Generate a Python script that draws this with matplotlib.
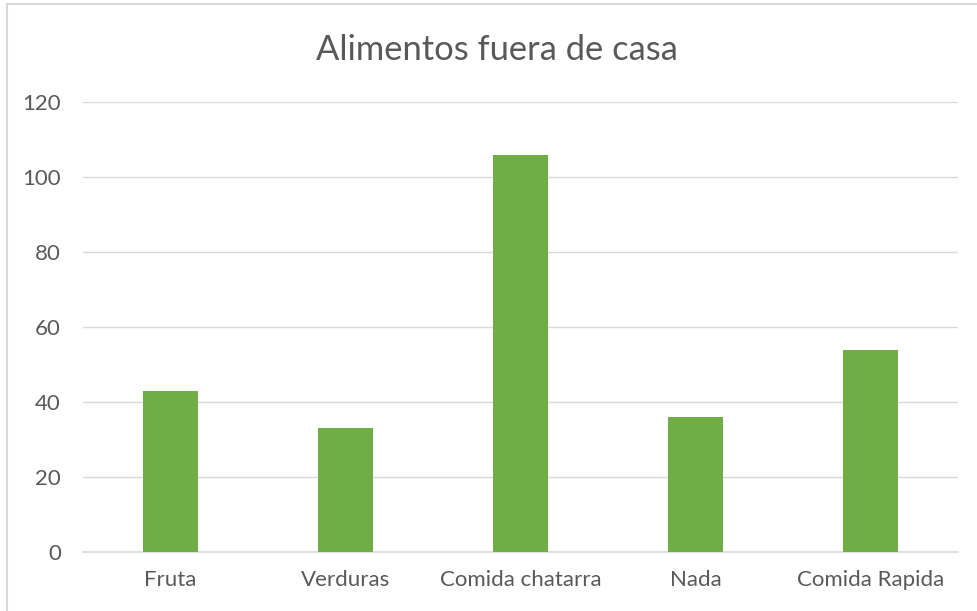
import matplotlib
matplotlib.use('Agg')
import matplotlib.pyplot as plt
from matplotlib.patches import Rectangle

categories = ['Fruta', 'Verduras', 'Comida chatarra', 'Nada', 'Comida Rapida']
values = [43, 33, 106, 36, 54]
y_ticks = [0, 20, 40, 60, 80, 100, 120]

W, H = 977, 611
fig = plt.figure(figsize=(W / 100, H / 100), dpi=100)
plt.rcParams['font.family'] = ['Lato', 'DejaVu Sans']

# chart-area border (only left and top visible in the crop)
fig.patches.append(Rectangle((6.5 / W, -0.1), 2, 1 - 3.5 / H + 0.1,
                             transform=fig.transFigure, fill=False,
                             edgecolor='#D9D9D9', linewidth=1.5))

ax = fig.add_axes([83 / W, 1 - 552 / H, 875 / W, 450 / H])
x = range(len(categories))
ax.bar(x, values, width=0.315, color='#70AD47', zorder=3)

ax.set_xlim(-0.5, len(categories) - 0.5)
ax.set_ylim(0, 120)
ax.set_yticks(y_ticks)
ax.set_xticks(list(x))
ax.set_xticklabels(categories)
ax.grid(axis='y', color='#D9D9D9', linewidth=1, zorder=0)
for s in ['top', 'right', 'left']:
    ax.spines[s].set_visible(False)
ax.spines['bottom'].set_color('#D9D9D9')
ax.spines['bottom'].set_linewidth(1.2)
ax.tick_params(length=0, colors='#595959', labelsize=16)
ax.tick_params(axis='y', pad=16)
ax.tick_params(axis='x', pad=13)

fig.text(497 / W, 1 - 50 / H, 'Alimentos fuera de casa', ha='center',
         va='center', fontsize=24.8, color='#595959')

plt.savefig('out.png', dpi=100)
